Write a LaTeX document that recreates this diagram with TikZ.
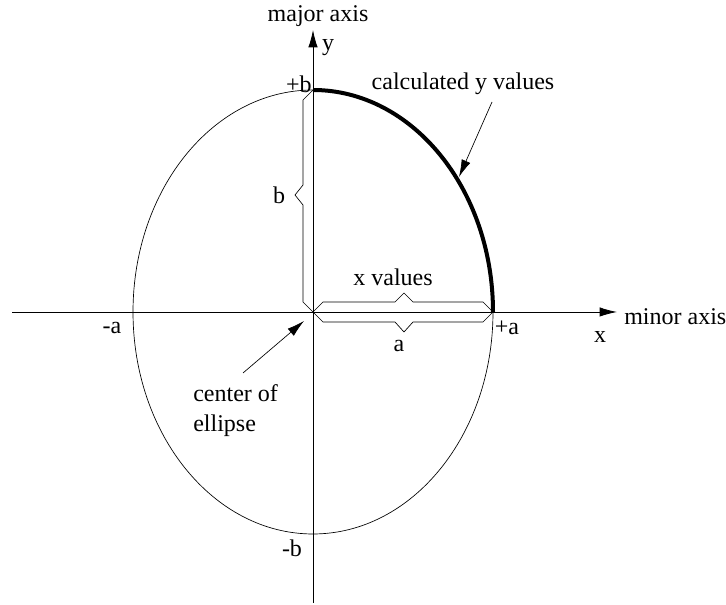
\documentclass[tikz,border=0pt]{standalone}
\usepackage{fontspec}
\setmainfont{Liberation Serif}
\usetikzlibrary{arrows.meta,positioning,calc}
\tikzset{
  axisline/.style={line width=0.6pt,-{Latex[length=13pt,width=7pt]}},
  pointer/.style={line width=0.5pt,-{Latex[length=13pt,width=7pt]}},
  bracket/.style={line width=0.5pt,line join=miter},
  lbl/.style={font=\fontsize{18}{22.5}\selectfont,inner sep=0pt}
}
\begin{document}
\begin{tikzpicture}[x=0.75pt,y=0.75pt]
\useasboundingbox (0,0) rectangle (726,605);
\coordinate (O) at (313,293);
\coordinate (A) at (493,293);
\coordinate (B) at (313,515);
\coordinate (xstart) at (12,293);
\coordinate (xend) at (617,293);
\coordinate (ystart) at (313,2);
\coordinate (yend) at (313,575);
% axes
\draw[axisline] (xstart) -- (xend);
\draw[axisline] (ystart) -- (yend);
% ellipse and the calculated quarter
\draw[line width=0.5pt] (O) ellipse[x radius=180,y radius=222];
\draw[line width=3pt] (B) arc[start angle=90,end angle=0,x radius=180,y radius=222];
% brackets
\draw[bracket] (O) -- (303,303) -- (303,400) -- (295,410) -- (303,420) -- (303,505) -- (B);
\draw[bracket] (O) -- (323,303) -- (395,303) -- (404,312) -- (413,303) -- (483,303) -- (A);
\draw[bracket] (O) -- (323,283) -- (395,283) -- (404,273) -- (413,283) -- (483,283) -- (A);
% labels
\node[lbl] (major) at (318,589) {major axis};
\node[lbl] (ylbl) at (328,557) {y};
\node[lbl,anchor=east] (plusb) at (312,521) {+b};
\node[lbl] (blbl) at (279,410) {b};
\node[lbl] (xval) at (393,328) {x values};
\node[lbl] (albl) at (399,259) {a};
\node[lbl] (plusa) at (507,277) {+a};
\node[lbl] (minusa) at (112,277) {-a};
\node[lbl] (minusb) at (292,57) {-b};
\node[lbl] (xlbl) at (600,268) {x};
\node[lbl,anchor=west] (minor) at (624,288) {minor axis};
\node[lbl] (calc) at (463,521) {calculated y values};
\node[lbl,anchor=west,align=left] (center) at (193,194) {center of\\ellipse};
% pointers
\coordinate (calctail) at (492,503);
\coordinate (calctip) at (459,428);
\coordinate (centertail) at (243,232);
\coordinate (centertip) at (304,284);
\draw[pointer] (calctail) -- (calctip);
\draw[pointer] (centertail) -- (centertip);
\end{tikzpicture}
\end{document}
